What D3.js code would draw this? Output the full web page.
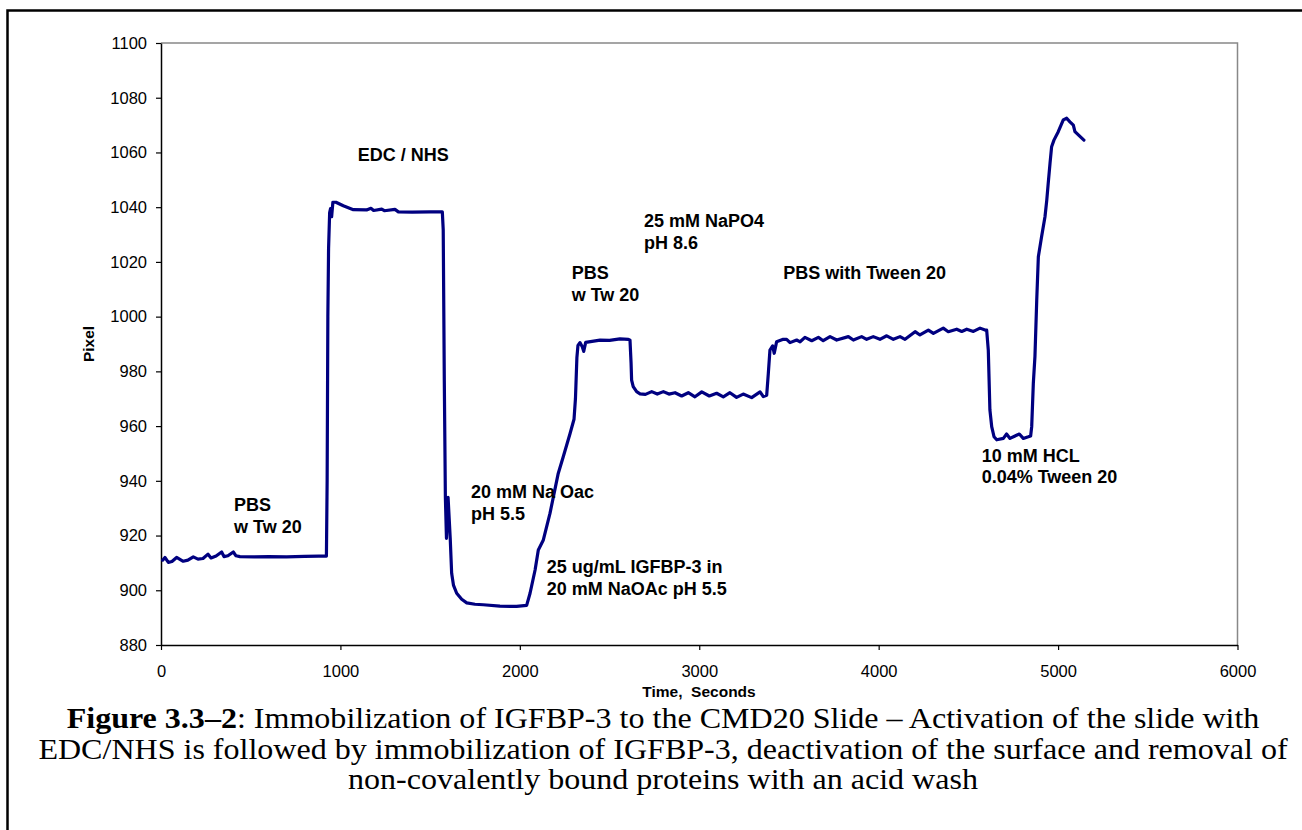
<!DOCTYPE html>
<html>
<head>
<meta charset="utf-8">
<script src="https://cdn.jsdelivr.net/npm/d3@7"></script>
<style>
  html, body { margin: 0; padding: 0; background: #ffffff; }
  svg { display: block; }
</style>
</head>
<body>
<svg id="chart" width="1302" height="830"></svg>
<script>
// ---- data (time in seconds, pixel value) ----
const timeSec = [
  9,22,41,61,87,124,150,180,206,234,262,279,307,338,351,373,403,418,440,520,600,700,800,880,922,
  926,930,934,940,945,951,958,975,1016,1072,1146,1170,1185,1230,1245,1304,1323,1400,1500,1568,
  1573,1579,1585,1591,1600,1612,1620,1630,1648,1676,1704,1750,1796,1889,1982,2038,
  2057,2085,2103,2131,2168,2214,2242,2280,2302,2310,2318,2324,2335,2348,2356,2367,2447,2500,2558,2605,2614,
  2620,2623,2632,2651,2670,2700,2735,2766,2800,2831,2865,2902,2939,2976,3014,3056,3097,3134,3171,3208,3245,3292,3339,3357,3376,
  3385,3394,3409,3418,3431,3468,3487,3506,3543,3562,3589,3627,3664,3691,3729,3766,3831,3859,3905,3933,3970,4007,4045,4082,4119,4147,4203,4230,4277,4305,4360,4388,4435,4463,4491,4528,4565,4593,4602,
  4611,4620,4630,4643,4658,4695,4713,4732,4760,4784,4806,4834,4847,4853,4862,4871,4881,4890,4908,4927,4937,4945,4955,4964,4977,5001,5029,5048,5066,5085,5094,5113,5144
];
const pixelVal = [
  911.0,912.0,910.2,910.5,912.0,910.6,911.0,912.2,911.4,911.6,913.2,911.8,912.5,914.0,912.3,912.6,914.0,912.6,912.3,912.2,912.3,912.2,912.4,912.5,912.5,
  940,1000,1025,1038,1039.5,1036.5,1041.8,1041.8,1040.5,1039.1,1039.0,1039.6,1038.8,1039.3,1038.7,1039.2,1038.3,1038.2,1038.3,1038.3,
  1031.7,976.8,934,919,934,919,906.2,901.9,898.9,896.7,895.4,894.9,894.7,894.2,894.1,894.5,
  898.9,907.4,914.7,918.4,928.1,942.7,948.8,957.3,962.5,970,985,989.5,990.5,989,987.3,990.6,991.4,991.3,991.9,991.7,991.4,
  983,976.8,974.4,972.6,971.8,971.6,972.6,971.7,972.6,971.7,972.2,971.0,972.2,970.7,972.5,971.0,972.0,970.7,972.2,970.5,971.7,970.4,972.5,970.8,971.3,
  979.3,987.8,989.3,986.6,990.8,991.7,991.7,990.5,991.45,990.8,992.4,991.2,992.4,991.2,992.7,991.45,992.7,991.45,992.7,991.7,992.7,991.7,993.0,991.7,992.7,991.7,994.5,993.3,995.1,993.9,995.8,994.5,995.4,994.6,995.4,994.6,995.8,995.1,995.1,
  987.8,965.9,959.8,956.1,955.0,955.5,957.1,955.5,956.4,957.1,955.5,956.1,956.4,959.8,975.6,985.4,1006,1021.9,1029.2,1036.5,1042.6,1048.7,1056,1062.1,1064.5,1067.6,1071.9,1072.5,1071.2,1070,1067.6,1066.4,1064.5
];
const xTicks = [0,1000,2000,3000,4000,5000,6000];
const yTicks = [880,900,920,940,960,980,1000,1020,1040,1060,1080,1100];

const annText = [
  ["PBS","w Tw 20"],
  ["EDC / NHS"],
  ["20 mM Na Oac","pH 5.5"],
  ["PBS","w Tw 20"],
  ["25 mM NaPO4","pH 8.6"],
  ["25 ug/mL IGFBP-3 in","20 mM NaOAc pH 5.5"],
  ["PBS with Tween 20"],
  ["10 mM HCL","0.04% Tween 20"]
];
// anchor in data coordinates (time, pixel) at the first text baseline of each label
const annTime  = [407, 1096, 1728, 2289, 2692, 2150, 3468, 4574];
const annPixel = [928.8, 1056.9, 933.7, 1013.6, 1032.7, 906.2, 1013.6, 947.0];

const captionBold = "Figure 3.3\u20132";
const captionLines = [
  ": Immobilization of IGFBP-3 to the CMD20 Slide \u2013 Activation of the slide with",
  "EDC/NHS is followed by immobilization of IGFBP-3, deactivation of the surface and removal of",
  "non-covalently bound proteins with an acid wash"
];

// ---- layout ----
const svg = d3.select("#chart");
const L = 161, R = 1237.5, T = 43, B = 645;
const x = d3.scaleLinear().domain([0, 6000]).range([L, R]);
const y = d3.scaleLinear().domain([880, 1100]).range([B, T]);

// outer frame
svg.append("rect").attr("x", 7.5).attr("y", 10.5).attr("width", 1400).attr("height", 900)
  .attr("fill", "none").attr("stroke", "#000").attr("stroke-width", 2.5);

// plot frame (top/right gray)
svg.append("path")
  .attr("d", `M${L},${T}H${R}V${B}`)
  .attr("fill", "none").attr("stroke", "#888").attr("stroke-width", 1.5);

const sans = "'Liberation Sans', Arial, sans-serif";

// axes
const yAxis = d3.axisLeft(y).tickValues(yTicks).tickSize(5).tickSizeOuter(0).tickPadding(9).tickFormat(d3.format("d"));
const gy = svg.append("g").attr("transform", `translate(${L},0)`).call(yAxis);
const xAxis = d3.axisBottom(x).tickValues(xTicks).tickSize(5).tickSizeOuter(0).tickPadding(15).tickFormat(d3.format("d"));
const gx = svg.append("g").attr("transform", `translate(0,${B})`).call(xAxis);
[gx, gy].forEach(g => {
  g.selectAll("path.domain").attr("stroke", "#000").attr("stroke-width", 1.5);
  g.selectAll(".tick line").attr("stroke", "#000").attr("stroke-width", 1.2);
  g.selectAll(".tick text").attr("font-family", sans).attr("font-size", "16.5px").attr("fill", "#000");
});

// axis titles
svg.append("text")
  .attr("transform", `translate(93.5,344) rotate(-90)`)
  .attr("text-anchor", "middle")
  .attr("font-family", sans).attr("font-weight", "bold").attr("font-size", "15.5px")
  .text("Pixel");
svg.append("text")
  .attr("x", 699).attr("y", 697)
  .attr("text-anchor", "middle")
  .attr("font-family", sans).attr("font-weight", "bold").attr("font-size", "15.5px")
  .attr("xml:space", "preserve")
  .text("Time,  Seconds");

// series line
const pts = timeSec.map((t, i) => [t, pixelVal[i]]);
const line = d3.line().x(d => x(d[0])).y(d => y(d[1])).curve(d3.curveLinear);
svg.append("path").datum(pts)
  .attr("d", line)
  .attr("fill", "none").attr("stroke", "#000080").attr("stroke-width", 3.2)
  .attr("stroke-linejoin", "round").attr("stroke-linecap", "round");

// annotations
annText.forEach((lines, i) => {
  const t = svg.append("text")
    .attr("font-family", sans).attr("font-weight", "bold").attr("font-size", "18px").attr("fill", "#000");
  lines.forEach((s, j) => {
    t.append("tspan").attr("x", x(annTime[i])).attr("y", y(annPixel[i]) + j * 21.8).text(s);
  });
});

// caption (horizontally stretched like the source document)
const serif = "'Liberation Serif', 'Times New Roman', serif";
const capSize = 29;
const cap = svg.append("g");
const c1 = cap.append("text").attr("x", 0).attr("y", 728).attr("text-anchor", "middle")
  .attr("font-family", serif).attr("font-size", capSize + "px").attr("fill", "#000");
c1.append("tspan").attr("font-weight", "bold").text(captionBold);
c1.append("tspan").text(captionLines[0]);
const c2 = cap.append("text").attr("x", 0).attr("y", 759).attr("text-anchor", "middle")
  .attr("font-family", serif).attr("font-size", capSize + "px").attr("fill", "#000")
  .text(captionLines[1]);
cap.append("text").attr("x", 0).attr("y", 789).attr("text-anchor", "middle")
  .attr("font-family", serif).attr("font-size", capSize + "px").attr("fill", "#000")
  .text(captionLines[2]);
const len2 = c2.node().getComputedTextLength();
const sx = len2 > 0 ? 1250 / len2 : 1.12;
cap.attr("transform", `translate(663,0) scale(${sx},1)`);
</script>
</body>
</html>
